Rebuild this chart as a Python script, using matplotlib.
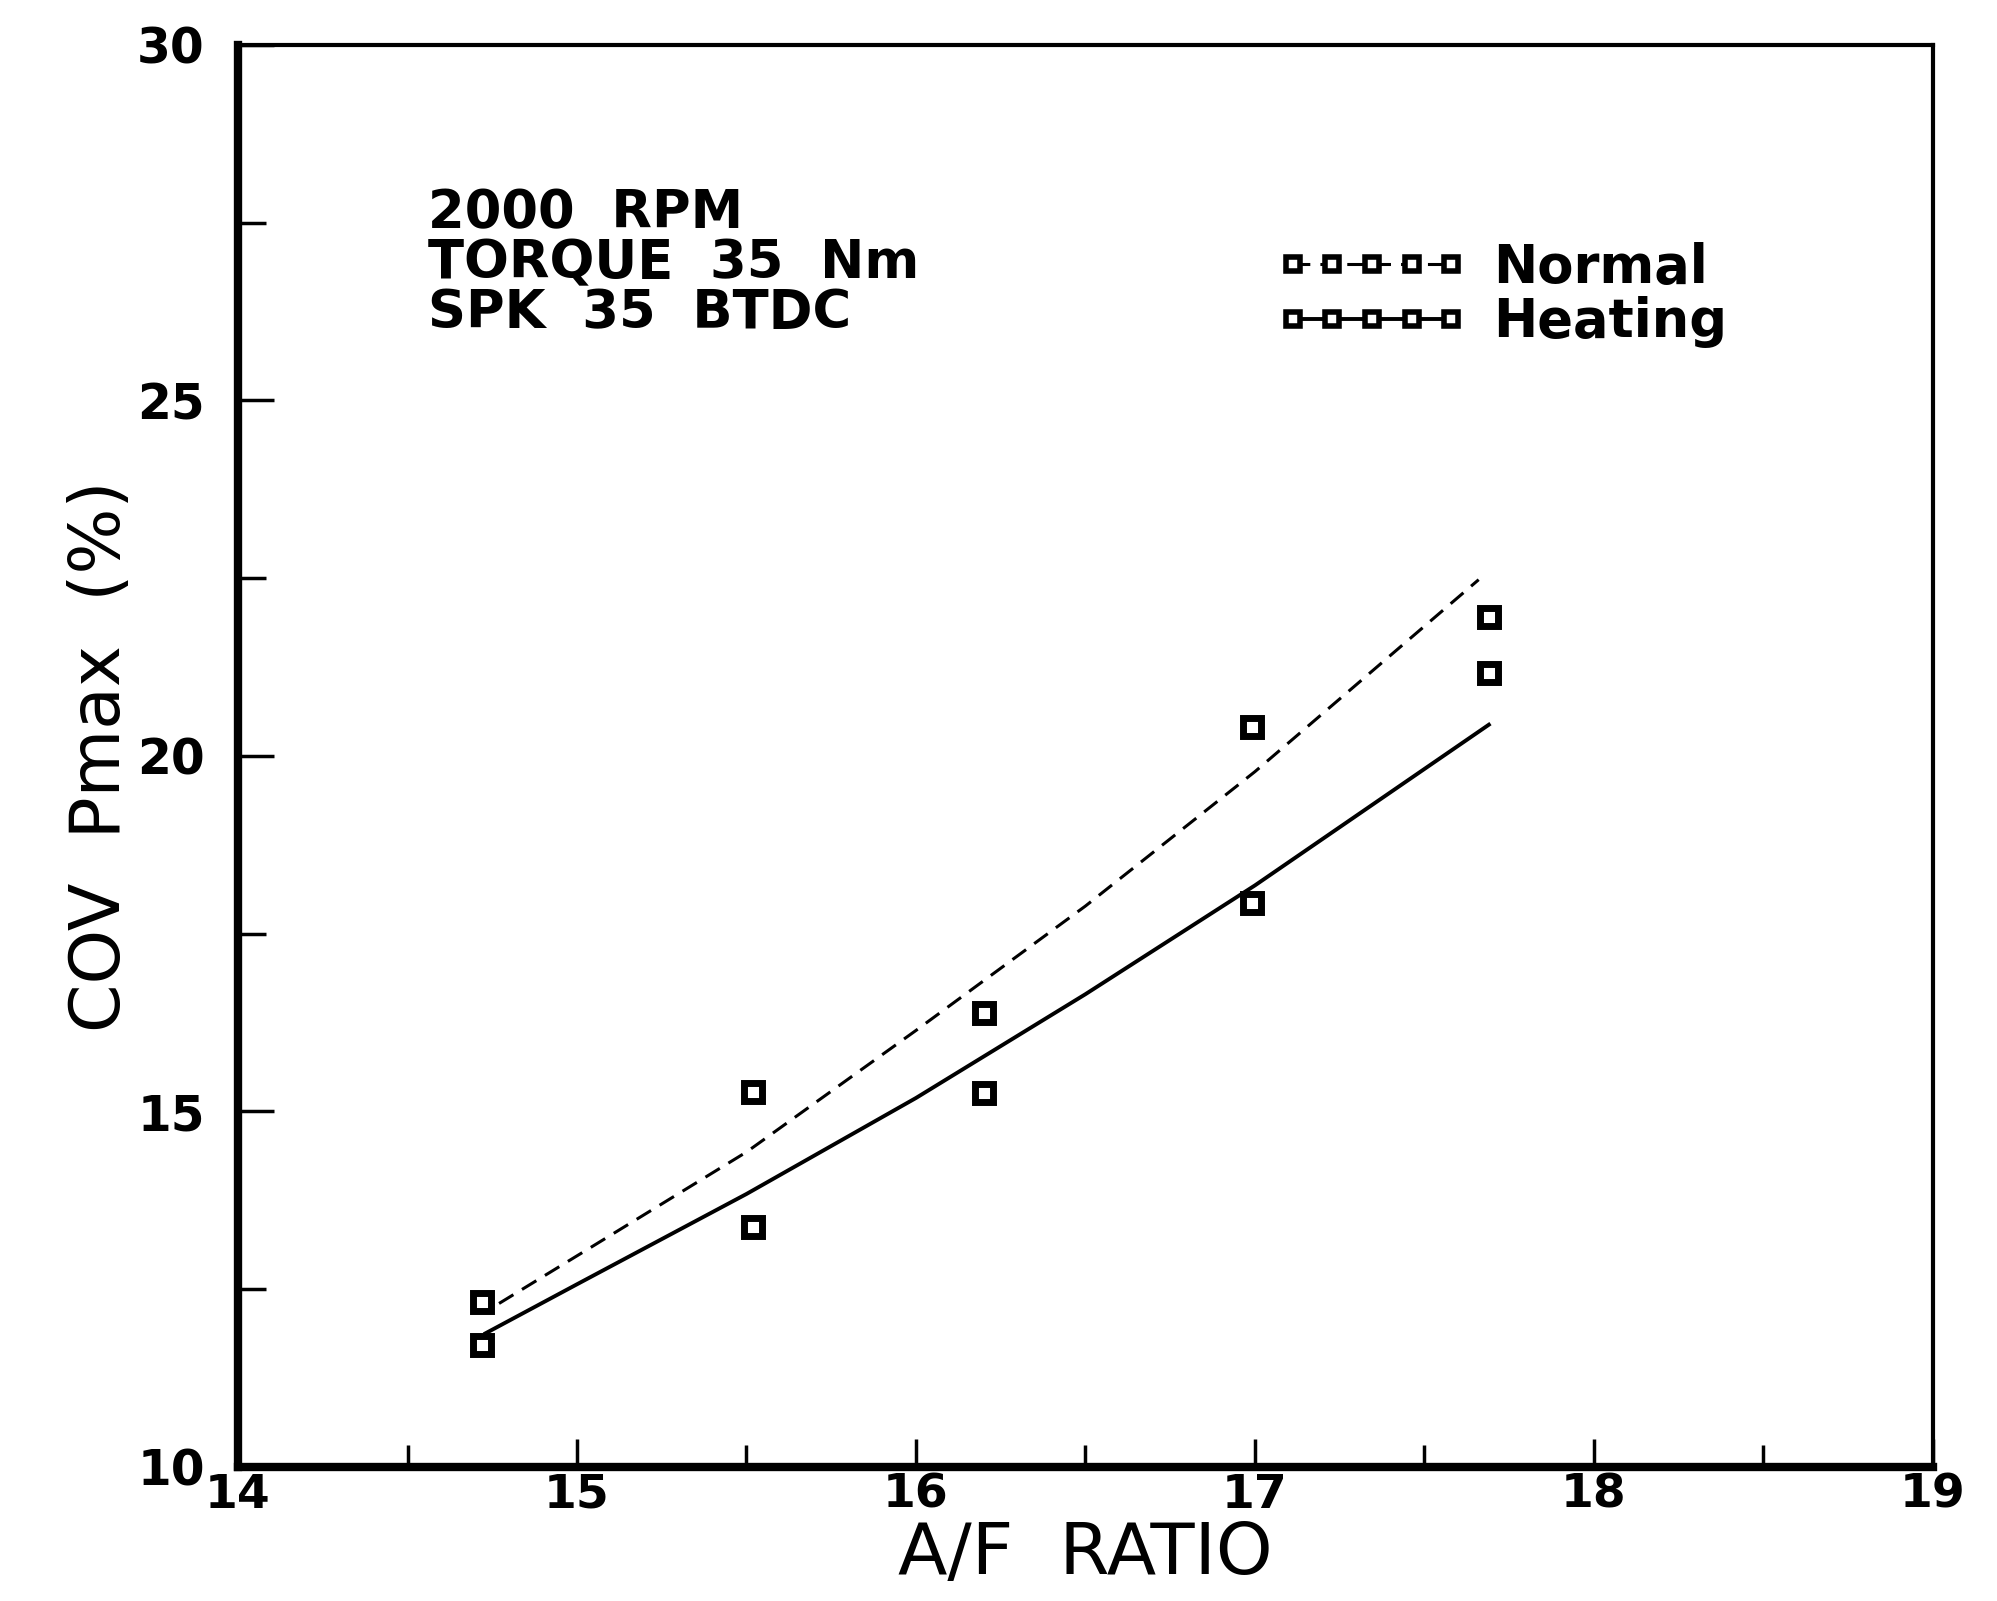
"""
COV of Pmax vs A/F ratio, normal vs intake heating (2000 RPM, 35 Nm).
"""

import matplotlib

matplotlib.use("Agg")
import matplotlib.pyplot as plt
from matplotlib.lines import Line2D

# ---------------------------------------------------------------------------
# Data
# ---------------------------------------------------------------------------

af_points = [14.72, 15.52, 16.20, 16.99, 17.69]
normal_points = [12.32, 15.28, 16.39, 20.41, 21.96]
heating_points = [11.72, 13.38, 15.26, 17.93, 21.17]

# fitted curves as drawn in the figure
af_normal_fit = [14.77, 15.0, 15.5, 16.0, 16.5, 17.0, 17.66]
normal_fit = [12.30, 12.97, 14.43, 16.14, 17.89, 19.78, 22.48]
af_heating_fit = [14.73, 15.0, 15.5, 16.0, 16.5, 17.0, 17.69]
heating_fit = [11.88, 12.57, 13.84, 15.19, 16.65, 18.18, 20.44]

x_ticks = [14, 15, 16, 17, 18, 19]
y_ticks = [10, 15, 20, 25, 30]

note_lines = ["2000  RPM", "TORQUE  35  Nm", "SPK  35  BTDC"]

DASH = (0, (5.5, 3.3))


def main() -> None:
    fig = plt.figure(figsize=(19.97, 16.01), dpi=100)
    ax = fig.add_axes([0.1192, 0.0837, 0.8487, 0.8882])

    ax.plot(af_normal_fit, normal_fit, color="black", lw=2.2, ls=DASH)
    ax.plot(af_heating_fit, heating_fit, color="black", lw=2.8, ls="-")
    mk = dict(ls="none", marker="s", ms=13, mfc="white", mec="black", mew=5)
    ax.plot(af_points, normal_points, **mk)
    ax.plot(af_points, heating_points, **mk)

    ax.set_xlim(14, 19)
    ax.set_ylim(10, 30)
    ax.set_xticks(x_ticks)
    ax.set_yticks(y_ticks)
    ax.set_xticks([14.5, 15.5, 16.5, 17.5, 18.5], minor=True)
    ax.set_yticks([12.5, 17.5, 22.5, 27.5], minor=True)
    ax.tick_params(axis="both", which="both", direction="in", width=2.5,
                   color="black")
    ax.tick_params(axis="y", which="major", length=26, pad=24)
    ax.tick_params(axis="y", which="minor", length=20)
    ax.tick_params(axis="x", which="major", length=20, pad=4)
    ax.tick_params(axis="x", which="minor", length=16)
    for lab in ax.get_yticklabels():
        lab.set_fontsize(35)
        lab.set_fontweight("bold")
    for lab in ax.get_xticklabels():
        lab.set_fontsize(34)
        lab.set_fontweight("bold")

    for side, w in [("left", 6), ("bottom", 6), ("top", 3), ("right", 3)]:
        ax.spines[side].set_linewidth(w)

    ax.set_xlabel("A/F  RATIO", fontsize=52, labelpad=2)
    ax.set_ylabel("COV  Pmax  (%)", fontsize=50, labelpad=2)

    ax.text(14.56, 28.0, "\n".join(note_lines), fontsize=38,
            fontweight="bold", va="top", ha="left", linespacing=0.95)

    handles = [
        Line2D([], [], color="black", lw=2.2, ls=DASH, marker="s",
               ms=10, mfc="white", mec="black", mew=4),
        Line2D([], [], color="black", lw=2.8, ls="-", marker="s",
               ms=10, mfc="white", mec="black", mew=4),
    ]
    ax.legend(handles, ["Normal", "Heating"], loc="upper left",
              bbox_to_anchor=(0.585, 0.895), frameon=False, numpoints=5,
              handlelength=3.6, handletextpad=0.5, labelspacing=0.05,
              prop=dict(size=38, weight="bold"))

    fig.savefig("out.png", dpi=100)
    plt.close(fig)


if __name__ == "__main__":
    main()
